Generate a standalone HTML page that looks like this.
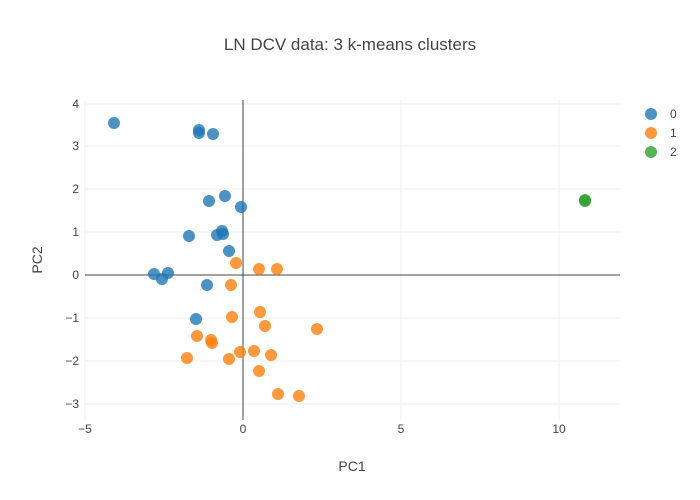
<!DOCTYPE html>
<html><head><meta charset="utf-8"><style>body{margin:0;background:#fff}svg{display:block}text{font-family:"Liberation Sans",sans-serif;fill:#444}</style></head><body>
<svg width="700" height="500" viewBox="0 0 700 500">
<rect width="700" height="500" fill="#fff"/>
<g stroke="#eee" stroke-width="1">
<line x1="85" y1="100" x2="85" y2="420"/><line x1="401" y1="100" x2="401" y2="420"/><line x1="559" y1="100" x2="559" y2="420"/>
<line x1="85" y1="104" x2="620" y2="104"/><line x1="85" y1="146" x2="620" y2="146"/><line x1="85" y1="189" x2="620" y2="189"/><line x1="85" y1="232" x2="620" y2="232"/>
<line x1="85" y1="318" x2="620" y2="318"/><line x1="85" y1="361" x2="620" y2="361"/><line x1="85" y1="404" x2="620" y2="404"/>
</g>
<g stroke="#444" stroke-width="1"><line x1="243" y1="100" x2="243" y2="420"/><line x1="85" y1="275" x2="620" y2="275"/></g>
<g font-size="12" text-anchor="middle">
<text x="85" y="433">−5</text><text x="243" y="433">0</text><text x="401" y="433">5</text><text x="559" y="433">10</text>
</g>
<g font-size="12" text-anchor="end">
<text x="79" y="108">4</text><text x="79" y="150">3</text><text x="79" y="193">2</text><text x="79" y="236">1</text><text x="79" y="279">0</text><text x="79" y="322">−1</text><text x="79" y="365">−2</text><text x="79" y="408">−3</text>
</g>
<text x="350" y="50" font-size="17" text-anchor="middle">LN DCV data: 3 k-means clusters</text>
<text x="352" y="471" font-size="14" text-anchor="middle">PC1</text>
<text x="42" y="260" font-size="14" text-anchor="middle" transform="rotate(-90 42 260)">PC2</text>
<g fill="#1f77b4" fill-opacity="0.8">
<circle cx="114" cy="123" r="6"/><circle cx="199" cy="130" r="6"/><circle cx="199" cy="133" r="6"/><circle cx="213" cy="134" r="6"/><circle cx="225" cy="196" r="6"/><circle cx="209" cy="201" r="6"/><circle cx="241" cy="207" r="6"/><circle cx="222" cy="231" r="6"/><circle cx="217" cy="235" r="6"/><circle cx="223" cy="234" r="6"/><circle cx="189" cy="236" r="6"/><circle cx="229" cy="251" r="6"/><circle cx="154" cy="274" r="6"/><circle cx="168" cy="273" r="6"/><circle cx="162" cy="279" r="6"/><circle cx="207" cy="285" r="6"/><circle cx="196" cy="319" r="6"/>
</g>
<g fill="#ff7f0e" fill-opacity="0.8">
<circle cx="236" cy="263" r="6"/><circle cx="259" cy="269" r="6"/><circle cx="277" cy="269" r="6"/><circle cx="231" cy="285" r="6"/><circle cx="260" cy="312" r="6"/><circle cx="232" cy="317" r="6"/><circle cx="265" cy="326" r="6"/><circle cx="317" cy="329" r="6"/><circle cx="197" cy="336" r="6"/><circle cx="211" cy="340" r="6"/><circle cx="212" cy="343" r="6"/><circle cx="240" cy="352" r="6"/><circle cx="254" cy="351" r="6"/><circle cx="271" cy="355" r="6"/><circle cx="187" cy="358" r="6"/><circle cx="229" cy="359" r="6"/><circle cx="259" cy="371" r="6"/><circle cx="278" cy="394" r="6"/><circle cx="299" cy="396" r="6"/>
</g>
<g fill="#2ca02c" fill-opacity="0.8"><circle cx="585" cy="201" r="6"/><circle cx="585" cy="200" r="6"/></g>
<g font-size="12">
<circle cx="651" cy="114" r="6" fill="#1f77b4" fill-opacity="0.8"/><text x="670" y="118">0</text>
<circle cx="651" cy="133" r="6" fill="#ff7f0e" fill-opacity="0.8"/><text x="670" y="137">1</text>
<circle cx="651" cy="152" r="6" fill="#2ca02c" fill-opacity="0.8"/><text x="670" y="156">2</text>
</g>
</svg>
</body></html>
